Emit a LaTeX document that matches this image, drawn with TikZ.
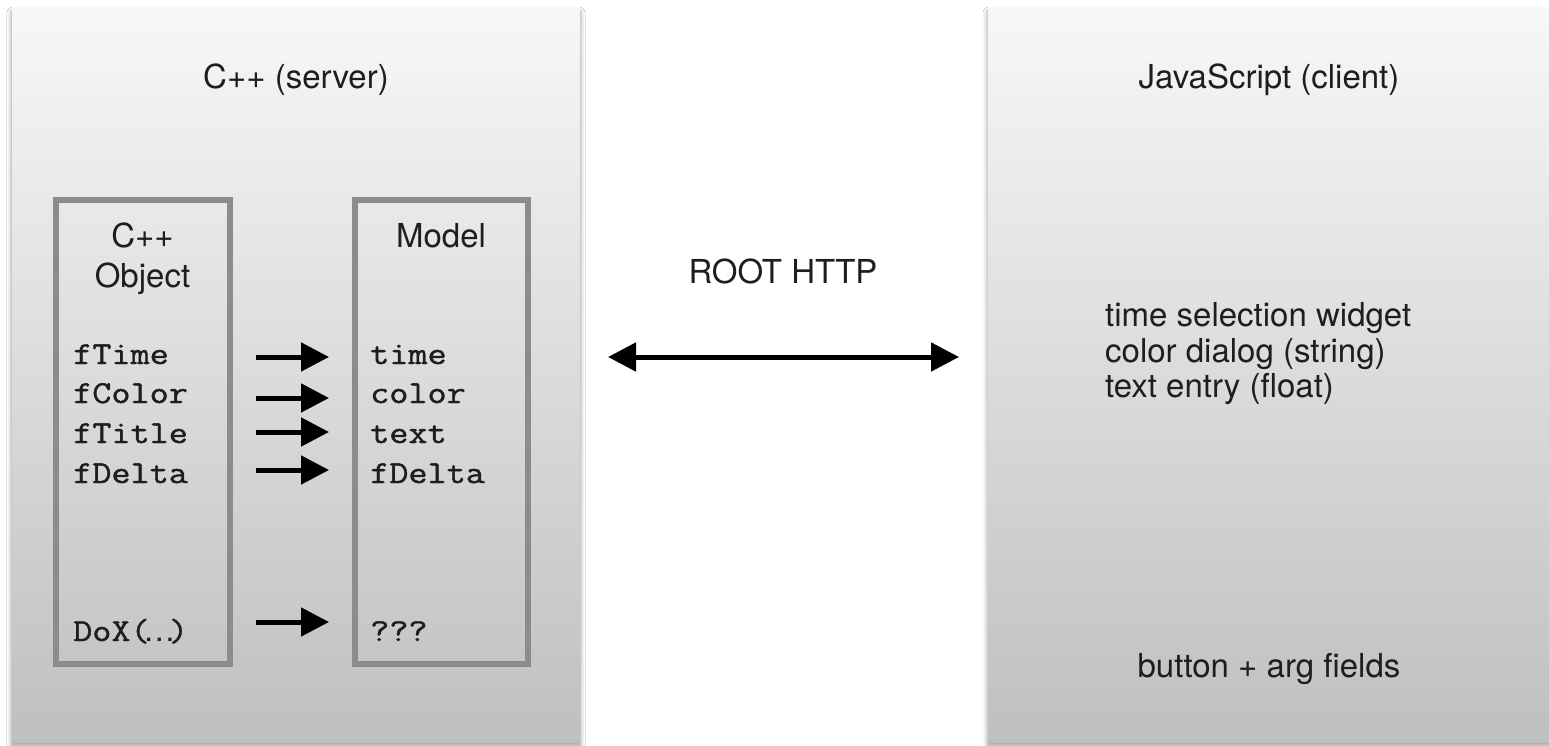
\documentclass[tikz,border=0pt]{standalone}
\usepackage{fontspec}
\setmainfont{TeX Gyre Heros}
\setmonofont{Latin Modern Mono}[FakeStretch=1.16,FakeBold=1.3]
\usetikzlibrary{arrows.meta,shadows.blur}
\definecolor{boxgray}{HTML}{8B8B90}
\definecolor{txt}{HTML}{1E1E1E}
\newcommand{\ellip}{\makebox[19.4pt][c]{\rmfamily …}}
\tikzset{
  panel/.style={draw=none, inner sep=0pt, top color=white!97!black, bottom color=black!25,
    blur shadow={shadow xshift=0pt, shadow yshift=-3pt, shadow blur radius=5pt, shadow opacity=45}},
  innerbox/.style={draw=boxgray, line width=6pt, inner sep=0pt, fill=none},
  sanstxt/.style={font=\fontsize{33}{36}\selectfont, text=txt, inner sep=0pt},
  monotxt/.style={font=\ttfamily\fontsize{32}{39}\selectfont, text=txt, inner sep=0pt, anchor=base west},
  maparrow/.style={line width=5pt, -{Triangle[length=28pt,width=28pt]}},
  linkarrow/.style={line width=5pt, {Triangle[length=28pt,width=28pt]}-{Triangle[length=28pt,width=28pt]}}
}
\begin{document}
\begin{tikzpicture}[x=1pt,y=-1pt]
\useasboundingbox (0,0) rectangle (1549,746);
\fill[white] (0,0) rectangle (1549,746);
% panels
\node[panel, minimum width=568pt, minimum height=733pt] (server) at (296,375.5) {};
\node[panel, minimum width=600pt, minimum height=733pt] (client) at (1288,375.5) {};
% titles
\node[sanstxt, anchor=base] (servertitle) at (296,89) {C++ (server)};
\node[sanstxt, anchor=base] (clienttitle) at (1269,89) {JavaScript (client)};
% inner boxes
\node[innerbox, minimum width=174pt, minimum height=464pt] (objbox) at (143,432) {};
\node[innerbox, minimum width=173pt, minimum height=464pt] (modelbox) at (441.5,432) {};
\node[sanstxt, anchor=base] (cpp) at (142.5,247) {C++};
\node[sanstxt, anchor=base] (object) at (142.5,287) {Object};
\node[sanstxt, anchor=base] (model) at (441,247) {Model};
% members
\node[monotxt] (ftime) at (73,364) {fTime};
\node[monotxt] (fcolor) at (73,403) {fColor};
\node[monotxt] (ftitle) at (73,443) {fTitle};
\node[monotxt] (fdelta) at (73,483) {fDelta};
\node[monotxt] (dox) at (73,641) {DoX(\ellip)};
\node[monotxt] (mtime) at (370,364) {time};
\node[monotxt] (mcolor) at (370,403) {color};
\node[monotxt] (mtext) at (370,443) {text};
\node[monotxt] (mdelta) at (370,483) {fDelta};
\node[monotxt] (mq) at (370,641) {???};
% arrow ends
\coordinate (a1s) at (256,357); \coordinate (a1e) at (329,357);
\coordinate (a2s) at (256,398); \coordinate (a2e) at (329,398);
\coordinate (a3s) at (256,432); \coordinate (a3e) at (329,432);
\coordinate (a4s) at (256,470); \coordinate (a4e) at (329,470);
\coordinate (a5s) at (256,622); \coordinate (a5e) at (329,622);
\draw[maparrow] (a1s) -- (a1e);
\draw[maparrow] (a2s) -- (a2e);
\draw[maparrow] (a3s) -- (a3e);
\draw[maparrow] (a4s) -- (a4e);
\draw[maparrow] (a5s) -- (a5e);
% link
\node[sanstxt, anchor=base] (http) at (783,283) {ROOT HTTP};
\coordinate (ls) at (608,357);
\coordinate (le) at (959,357);
\draw[linkarrow] (ls) -- (le);
% client content
\node[sanstxt, anchor=base west] (w1) at (1105,326) {time selection widget};
\node[sanstxt, anchor=base west] (w2) at (1105,362) {color dialog (string)};
\node[sanstxt, anchor=base west] (w3) at (1105,397) {text entry (float)};
\node[sanstxt, anchor=base] (btn) at (1269,677) {button + arg fields};
\end{tikzpicture}
\end{document}
